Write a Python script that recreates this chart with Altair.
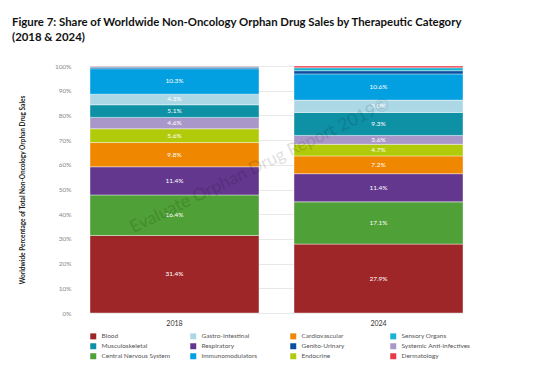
import altair as alt
import pandas as pd

years = ["2018", "2024"]
categories = ["Blood", "Central Nervous System", "Respiratory", "Cardiovascular",
              "Endocrine", "Systemic Anti-infectives", "Musculoskeletal",
              "Gastro-Intestinal", "Immunomodulators", "Genito-Urinary",
              "Sensory Organs", "Dermatology"]
share_2018 = [31.4, 16.4, 11.4, 9.8, 5.6, 4.6, 5.1, 4.3, 10.3, 0.6, 0.3, 0.2]
share_2024 = [27.9, 17.1, 11.4, 7.2, 4.7, 3.6, 9.3, 5.0, 10.6, 1.3, 1.2, 0.7]
labelled = [True] * 9 + [False] * 3
y_ticks = [0, 10, 20, 30, 40, 50, 60, 70, 80, 90, 100]

legend_order = ["Blood", "Gastro-Intestinal", "Cardiovascular", "Sensory Organs",
                "Musculoskeletal", "Respiratory", "Genito-Urinary", "Systemic Anti-infectives",
                "Central Nervous System", "Immunomodulators", "Endocrine", "Dermatology"]
colors = {"Blood": "#9f2628", "Gastro-Intestinal": "#acd8e6", "Cardiovascular": "#ef8700",
          "Sensory Organs": "#19b4d2", "Musculoskeletal": "#0f91a5", "Respiratory": "#63378e",
          "Genito-Urinary": "#0b4f9f", "Systemic Anti-infectives": "#aa97c9",
          "Central Nervous System": "#4fa036", "Immunomodulators": "#029fe1",
          "Endocrine": "#b1cb0b", "Dermatology": "#e93a48"}

rows = []
for yr, vals in zip(years, [share_2018, share_2024]):
    for i, (c, v) in enumerate(zip(categories, vals)):
        rows.append({"year": yr, "category": c, "value": v, "order": i,
                     "label": f"{v:.1f}%" if labelled[i] else ""})
df = pd.DataFrame(rows)

FONT = "Lato"

base = alt.Chart(df).transform_stack(
    stack="value", groupby=["year"], sort=[alt.SortField("order")], as_=["y0", "y1"]
).transform_calculate(mid="(datum.y0 + datum.y1) / 2")

xscale = alt.Scale(range=[0, 373], paddingInner=0.1716, paddingOuter=0)
xaxis = alt.Axis(labelAngle=0, ticks=False, domain=False, labelFontSize=7,
                 labelColor="#333333", labelPadding=6, labelFont=FONT)
yscale = alt.Scale(domain=[0, 100], nice=False)
yaxis = alt.Axis(values=y_ticks, labelExpr="datum.value + '%'",
                 labelOverlap=False, labelFlush=False,
                 ticks=False, domain=False, gridColor="#e8e8e8", labelFontSize=6.5,
                 labelColor="#888888", labelPadding=19, labelFont=FONT,
                 titleFontSize=6.5, titleFont=FONT, titleFontWeight="bold",
                 titleColor="#222222", titlePadding=29)
ytitle = "Worldwide Percentage of Total Non-Oncology Orphan Drug Sales"

bars = base.mark_bar(stroke="white", strokeWidth=0.4).encode(
    x=alt.X("year:N", title=None, scale=xscale, axis=xaxis),
    y=alt.Y("y0:Q", scale=yscale, title=ytitle, axis=yaxis),
    y2="y1:Q",
    color=alt.Color("category:N", sort=legend_order,
                    scale=alt.Scale(domain=legend_order, range=[colors[c] for c in legend_order]),
                    legend=alt.Legend(title=None, orient="none", legendX=0, legendY=267,
                                      columns=4, direction="horizontal", symbolType="square",
                                      symbolSize=36, symbolStrokeWidth=0, labelFontSize=6.5,
                                      labelColor="#555555", labelFont=FONT, gridAlign="all",
                                      columnPadding=19, rowPadding=3, labelOffset=5,
                                      labelLimit=200)),
)

texts = base.mark_text(color="white", fontSize=6.5, font=FONT).encode(
    x=alt.X("year:N", title=None, scale=xscale, axis=xaxis),
    y=alt.Y("mid:Q", scale=yscale, title=ytitle, axis=yaxis),
    text="label:N",
)

watermark = alt.Chart(pd.DataFrame({"t": ["Evaluate Orphan Drug Report 2019©"]})).mark_text(
    fontSize=17.5, angle=334, color="#000000", opacity=0.12, font=FONT
).encode(x=alt.value(170), y=alt.value(100), text="t:N")

bottom_line = alt.Chart(pd.DataFrame({"a": [0]})).mark_rule(color="#3ec1dd", strokeWidth=1.5).encode(
    x=alt.value(-78), x2=alt.value(415), y=alt.value(317))

chart = alt.layer(bars, texts, watermark, bottom_line).properties(
    width=430, height=247,
    autosize=alt.AutoSizeParams(type="none"),
    padding={"left": 82, "top": 58, "right": 20, "bottom": 69},
    title=alt.TitleParams(
        ["Figure 7: Share of Worldwide Non-Oncology Orphan Drug Sales by Therapeutic Category",
         "(2018 & 2024)"],
        anchor="start", frame="group", dx=-78, offset=20, fontSize=11.4, font=FONT,
        fontWeight="bold", color="#111111", lineHeight=15),
).configure_view(stroke=None)

chart.save("out.html", embed_options={"renderer": "svg", "actions": False})
